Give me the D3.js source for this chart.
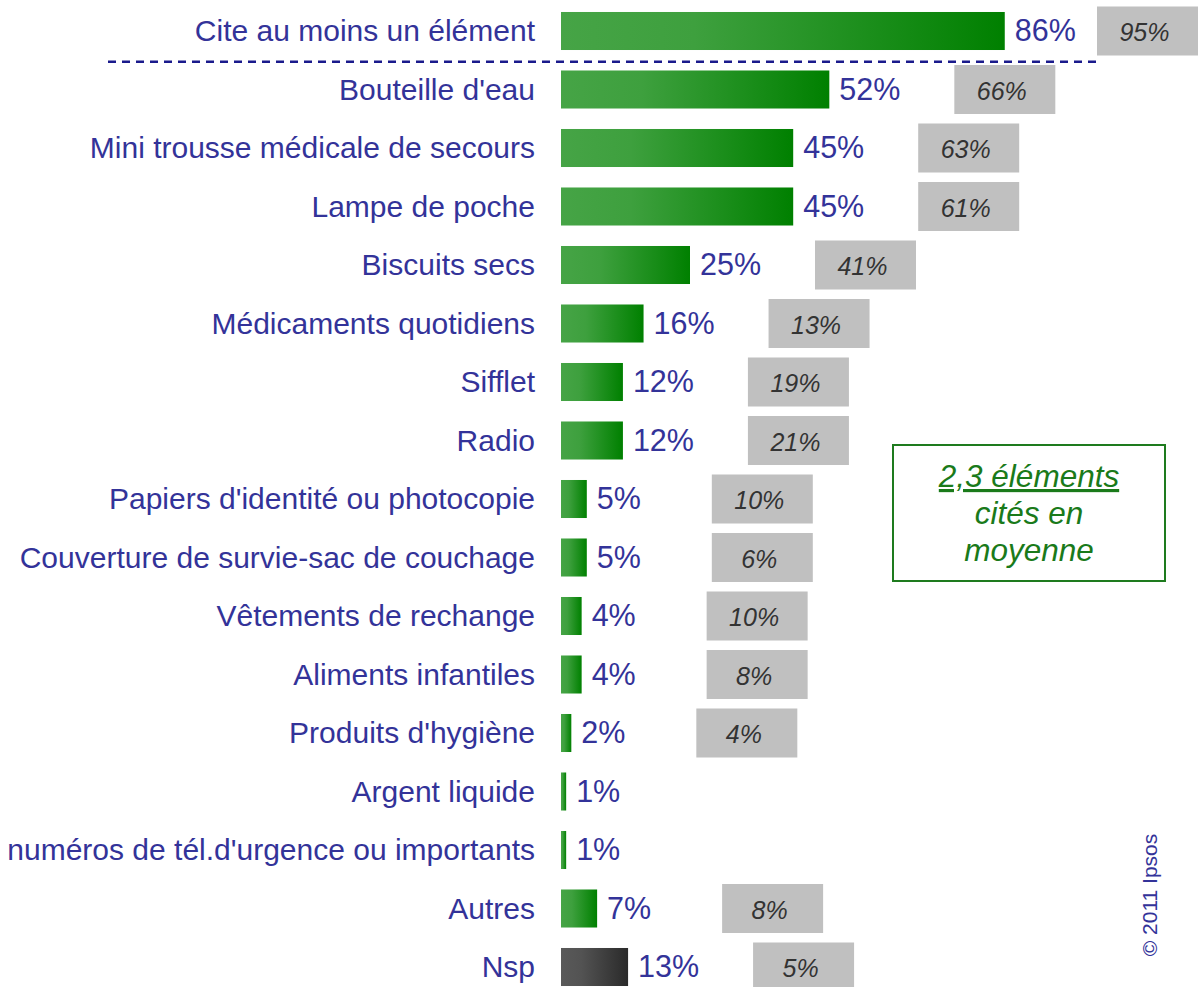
<!DOCTYPE html>
<html>
<head>
<meta charset="utf-8">
<script src="https://cdn.jsdelivr.net/npm/d3@7/dist/d3.min.js"></script>
<style>
  html, body { margin: 0; padding: 0; background: #fff; }
  svg { display: block; font-family: "Liberation Sans", Arial, sans-serif; }
</style>
</head>
<body>
<svg id="chart" width="1200" height="987"></svg>
<script>
const categories = [
  "Cite au moins un élément",
  "Bouteille d'eau",
  "Mini trousse médicale de secours",
  "Lampe de poche",
  "Biscuits secs",
  "Médicaments quotidiens",
  "Sifflet",
  "Radio",
  "Papiers d'identité ou photocopie",
  "Couverture de survie-sac de couchage",
  "Vêtements de rechange",
  "Aliments infantiles",
  "Produits d'hygiène",
  "Argent liquide",
  "numéros de tél.d'urgence ou importants",
  "Autres",
  "Nsp"
];
const values2011 = [86, 52, 45, 45, 25, 16, 12, 12, 5, 5, 4, 4, 2, 1, 1, 7, 13];
const valuesPrevious = [95, 66, 63, 61, 41, 13, 19, 21, 10, 6, 10, 8, 4, null, null, 8, 5];
const noteLines = ["2,3 éléments", "cités en", "moyenne"];
const copyright = "© 2011 Ipsos";

const W = 1200, H = 987;
const svg = d3.select("#chart");
const defs = svg.append("defs");

function grad(id, c0, c1) {
  const g = defs.append("linearGradient").attr("id", id)
    .attr("x1", "0%").attr("x2", "100%").attr("y1", "0%").attr("y2", "0%");
  g.append("stop").attr("offset", "0%").attr("stop-color", c0);
  g.append("stop").attr("offset", "30%").attr("stop-color", d3.interpolateRgb(c0, c1)(0.12));
  g.append("stop").attr("offset", "100%").attr("stop-color", c1);
}
grad("gGreen", "#46a446", "#008000");
grad("gGray", "#595959", "#2a2a2a");

const x = d3.scaleLinear().domain([0, 100]).range([561, 561 + 516]);
const y = d3.scaleBand().domain(categories).range([1.75, 996.25])
  .paddingInner(0.35).paddingOuter(0.175);
const bh = y.bandwidth();
const cy = c => y(c) + bh / 2;

const textColor = "#333399";

const rows = categories.map((c, i) => ({ c, v: values2011[i], p: valuesPrevious[i], i }));

// category labels
svg.append("g").selectAll("text").data(rows).join("text")
  .attr("x", 535).attr("y", d => cy(d.c) + 10)
  .attr("text-anchor", "end")
  .attr("font-size", 30).attr("fill", textColor)
  .text(d => d.c);

// bars
svg.append("g").selectAll("rect").data(rows).join("rect")
  .attr("x", x(0)).attr("y", d => y(d.c))
  .attr("width", d => x(d.v) - x(0)).attr("height", bh)
  .attr("fill", d => d.c === "Nsp" ? "url(#gGray)" : "url(#gGreen)");

// value labels
svg.append("g").selectAll("text").data(rows).join("text")
  .attr("x", d => x(d.v) + 10).attr("y", d => cy(d.c) + 10)
  .attr("font-size", 30.5).attr("fill", textColor)
  .text(d => d.v + "%");

// previous-wave boxes
const boxW = 101, boxH = 49;
const prev = rows.filter(d => d.p != null);
const bx = d => Math.min(x(d.v) + 125, W - 103);
const pg = svg.append("g").selectAll("g").data(prev).join("g");
pg.append("rect")
  .attr("x", bx).attr("y", d => cy(d.c) - boxH / 2)
  .attr("width", boxW).attr("height", boxH)
  .attr("fill", "#c0c0c0");
pg.append("text")
  .attr("x", d => bx(d) + boxW / 2 - 3).attr("y", d => cy(d.c) + 10)
  .attr("text-anchor", "middle")
  .attr("font-size", 25).attr("font-style", "italic").attr("fill", "#333333")
  .text(d => d.p + "%");

// dashed separator
const sepY = (cy(categories[0]) + cy(categories[1])) / 2 + 1.5;
svg.append("line")
  .attr("x1", 108).attr("x2", 1096).attr("y1", sepY).attr("y2", sepY)
  .attr("stroke", "#1a1a8c").attr("stroke-width", 2.5)
  .attr("stroke-dasharray", "8,6");

// note box
svg.append("rect").attr("x", 893).attr("y", 445).attr("width", 272).attr("height", 136)
  .attr("fill", "#fff").attr("stroke", "#1e7b1e").attr("stroke-width", 2);
const noteColor = "#1a7a1a";
svg.append("g").selectAll("text").data(noteLines).join("text")
  .attr("x", 1029).attr("y", (d, i) => 487 + i * 37)
  .attr("text-anchor", "middle")
  .attr("font-size", 31.5).attr("font-style", "italic").attr("fill", noteColor)
  .attr("text-decoration", (d, i) => i === 0 ? "underline" : null)
  .text(d => d);

// copyright
svg.append("text")
  .attr("transform", "translate(1157,895) rotate(-90)")
  .attr("text-anchor", "middle")
  .attr("font-size", 21).attr("fill", textColor)
  .text(copyright);
</script>
</body>
</html>
